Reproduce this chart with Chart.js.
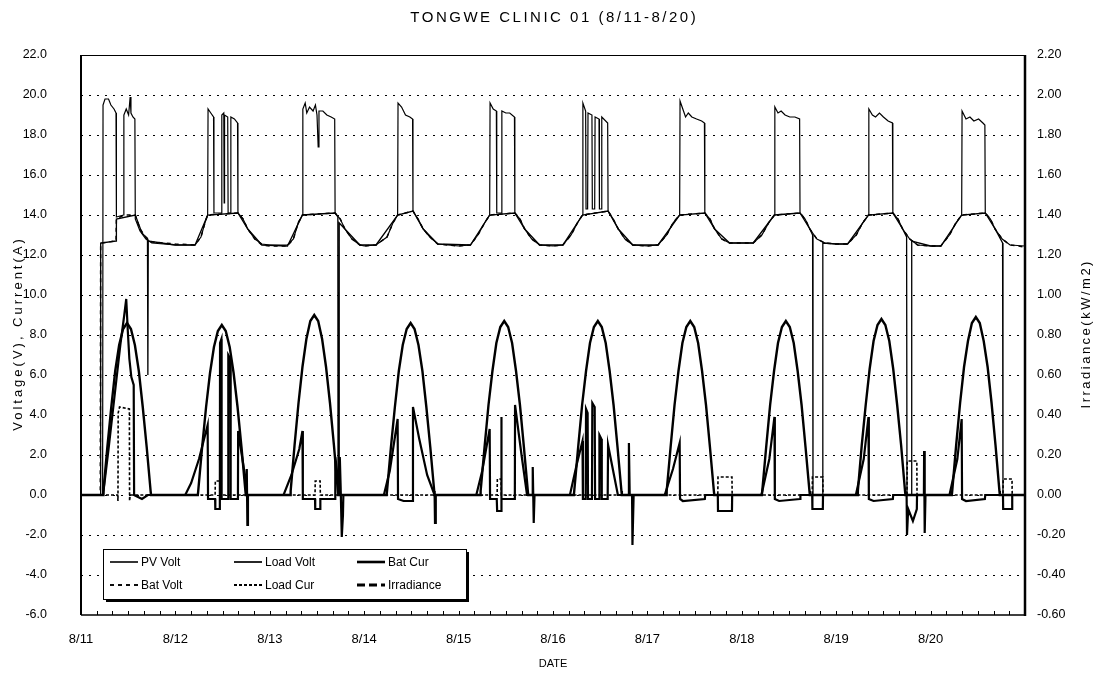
<!DOCTYPE html>
<html>
<head>
<meta charset="utf-8">
<script src="https://cdn.jsdelivr.net/npm/chart.js@4.4.1/dist/chart.umd.min.js"></script>
<style>
  html, body { margin: 0; padding: 0; background: #fff; }
  canvas { display: block; }
</style>
</head>
<body>
<canvas id="chart" width="1097" height="681"></canvas>
<script>
// ---- chart text ----
const chartTitle = 'TONGWE CLINIC 01 (8/11-8/20)';
const xTitle = 'DATE';
const yTitleLeft = 'Voltage(V), Current(A)';
const yTitleRight = 'Irradiance(kW/m2)';
const dateLabels = ['8/11', '8/12', '8/13', '8/14', '8/15', '8/16', '8/17', '8/18', '8/19', '8/20'];

// ---- logged series: [hours since 8/11 00:00, value] ----
const pvVolt = [
  [0,0],[5.5,0],[5.6,19.5],[6.1,19.8],[7.0,19.8],[7.6,19.5],[8.4,19.3],[8.9,19.1],[9.0,13.9],[10.8,14.0],[10.9,19.0],[11.5,19.3],[12.1,19.0],[12.5,19.9],[12.7,19.1],[13.2,18.9],[13.7,18.8],[13.8,13.8],[15.0,13.2],[16.5,12.8],[18,12.6],[24,12.5],
  [29,12.5],[30.5,12.9],[31.5,13.6],[32.2,14.0],[32.3,19.3],[33.0,19.1],[33.7,18.9],[33.8,14.1],[35.7,14.1],[35.8,19.0],[36.3,19.1],[36.4,14.6],[36.5,19.0],[37.3,18.9],[37.4,14.1],[38.0,14.1],[38.1,18.9],[39.0,18.8],[39.8,18.6],[39.9,14.1],[41.2,13.8],[42.4,13.3],[44.2,12.8],[46,12.55],[48,12.5],
  [52.5,12.5],[54,12.8],[55.2,13.6],[56.3,14.0],[56.4,19.3],[57.0,19.6],[57.4,19.1],[58.1,19.4],[59.0,19.2],[59.6,19.5],[60.0,19.0],[60.3,17.4],[60.5,19.2],[61.5,19.2],[62.5,19.0],[63.6,18.9],[64.5,18.8],[64.6,14.1],[65.9,13.8],[67.1,13.3],[68.9,12.8],[70.9,12.5],[72,12.45],
  [75.0,12.5],[77.8,12.9],[79.3,13.6],[80.5,14.0],[80.6,19.6],[81.5,19.4],[82.5,19.0],[83.6,18.9],[84.3,18.8],[84.4,14.2],[85.7,13.8],[87.0,13.3],[88.7,12.9],[90.7,12.55],[96,12.45],
  [99,12.5],[100.9,13.0],[102.6,13.6],[103.9,14.0],[104.0,19.6],[104.8,19.3],[105.6,19.2],[105.7,14.1],[106.9,14.1],[107.0,19.2],[108.0,19.1],[109.0,19.1],[110.2,18.9],[110.3,14.1],[111.6,13.8],[112.8,13.3],[114.6,12.8],[116.6,12.5],[120,12.45],
  [122.5,12.5],[124.6,13.0],[126.2,13.6],[127.5,14.0],[127.6,19.6],[128.3,19.2],[128.4,14.3],[128.8,14.3],[128.9,19.1],[129.9,19.0],[130.0,14.3],[130.6,14.3],[130.7,18.9],[131.7,18.8],[131.8,14.3],[132.3,14.3],[132.4,18.9],[133.9,18.6],[134.0,14.2],[135.3,13.8],[136.6,13.3],[138.3,12.8],[140.3,12.5],[144,12.45],
  [146.7,12.5],[148.9,13.0],[150.5,13.6],[152.2,14.0],[152.3,19.7],[153.0,19.3],[153.7,18.9],[154.4,19.1],[155.3,18.9],[156.5,18.8],[157.8,18.7],[158.5,18.6],[158.6,14.1],[159.9,13.8],[161.1,13.3],[162.9,12.8],[164.9,12.6],[168,12.6],
  [170.9,12.6],[173.1,13.0],[174.8,13.6],[176.3,14.0],[176.4,19.4],[177.2,19.1],[178.0,19.2],[179.0,19.0],[180.2,18.9],[181.5,18.9],[182.7,18.8],[182.8,14.1],[184.1,13.8],[185.3,13.3],[187.1,12.8],[189.1,12.6],[192,12.55],
  [194.9,12.55],[197.1,13.0],[198.7,13.6],[200.2,14.0],[200.3,19.3],[201.2,19.0],[202.0,18.9],[203.0,19.1],[204.0,18.9],[205.2,18.7],[206.3,18.6],[206.4,14.1],[207.7,13.8],[208.9,13.3],[210.7,12.8],[212.7,12.5],[216,12.45],
  [218.6,12.45],[220.8,13.0],[222.4,13.6],[223.9,14.0],[224.0,19.2],[225.0,18.8],[226.0,18.9],[227.0,18.7],[228.2,18.8],[229.3,18.6],[229.8,18.5],[229.9,14.1],[231.2,13.8],[232.4,13.3],[234.2,12.8],[236.2,12.5],[240,12.45]
];

const batVolt = [
  [0,0],[4.9,0],[5.0,12.6],[8.9,12.7],[9.0,13.8],[10.9,14.0],[13.8,14.0],[15.0,13.3],[16.5,12.9],[18,12.65],[24,12.55],
  [29,12.5],[30.5,12.9],[31.5,13.6],[32.2,14.0],[39.9,14.1],[41.2,13.8],[42.4,13.3],[44.2,12.8],[46,12.5],[48,12.45],
  [52.5,12.45],[54,12.8],[55.2,13.6],[56.3,14.0],[64.6,14.1],[65.9,13.8],[67.1,13.3],[68.9,12.8],[70.9,12.5],[72,12.45],
  [75.0,12.5],[77.8,12.9],[79.3,13.6],[80.5,14.0],[84.4,14.2],[85.7,13.8],[87.0,13.3],[88.7,12.9],[90.7,12.55],[96,12.45],
  [99,12.5],[100.9,13.0],[102.6,13.6],[103.9,14.0],[110.3,14.1],[111.6,13.8],[112.8,13.3],[114.6,12.8],[116.6,12.5],[120,12.45],
  [122.5,12.5],[124.6,13.0],[126.2,13.6],[127.5,14.0],[134.0,14.2],[135.3,13.8],[136.6,13.3],[138.3,12.8],[140.3,12.5],[144,12.45],
  [146.7,12.5],[148.9,13.0],[150.5,13.6],[152.2,14.0],[158.6,14.1],[159.9,13.8],[161.1,13.3],[162.9,12.8],[164.9,12.6],[168,12.6],
  [170.9,12.6],[173.1,13.0],[174.8,13.6],[176.3,14.0],[182.8,14.1],[184.1,13.8],[185.3,13.3],[187.1,12.8],[189.1,12.6],[192,12.55],
  [194.9,12.55],[197.1,13.0],[198.7,13.6],[200.2,14.0],[206.4,14.1],[207.7,13.8],[208.9,13.3],[210.7,12.8],[212.7,12.5],[216,12.45],
  [218.6,12.45],[220.8,13.0],[222.4,13.6],[223.9,14.0],[229.9,14.1],[231.2,13.8],[232.4,13.3],[234.2,12.8],[236.2,12.5],[240,12.4]
];

const loadVolt = [
  [0,0],[4.9,0],[5.0,12.6],[8.9,12.7],[9.0,13.8],[13.8,14.0],[15.5,13.1],[16.9,12.8],[17.0,6.0],[17.1,12.7],[24,12.5],
  [29,12.5],[32.2,14.0],[39.9,14.1],[42.4,13.3],[46,12.5],
  [52.5,12.45],[56.3,14.0],[64.6,14.1],[65.3,13.9],[65.35,0],[65.6,0],[65.65,13.6],[67.1,13.3],[70.9,12.5],
  [75,12.5],[80.5,14.0],[84.4,14.2],[87,13.3],[90.7,12.55],
  [99,12.5],[103.9,14.0],[110.3,14.1],[112.8,13.3],[116.6,12.5],
  [122.5,12.5],[127.5,14.0],[134,14.2],[136.6,13.3],[140.3,12.5],
  [146.7,12.5],[152.2,14.0],[158.6,14.1],[161.1,13.3],[164.9,12.6],
  [170.9,12.6],[176.3,14.0],[182.8,14.1],[185.3,13.3],[186.0,13.0],[186.1,0],[188.5,0],[188.6,12.6],[192,12.55],
  [194.9,12.55],[200.2,14.0],[206.4,14.1],[208.9,13.3],[209.9,12.9],[210.0,0],[211.1,0],[211.2,12.7],[216,12.45],
  [218.6,12.45],[223.9,14.0],[229.9,14.1],[232.4,13.3],[234.3,12.6],[234.4,0],[240,0]
];

const batCur = [
  [0,0],[5.6,0],[7.0,2.3],[8.5,4.9],[10.0,7.5],[11.0,9.0],[11.5,9.8],[11.9,8.2],[12.3,6.8],[12.8,5.9],[13.4,5.5],[13.5,0],[15.5,-0.2],[17,0],
  [26.5,0],[28,0.6],[30,1.8],[32.2,3.5],[32.3,-0.2],[34.1,-0.2],[34.15,-0.7],[35.3,-0.7],[35.35,7.6],[35.7,7.8],[35.75,-0.2],[37.4,-0.2],[37.45,7.0],[38.0,6.8],[38.05,-0.2],[39.9,-0.2],[39.95,3.2],[41.5,1.2],[42.1,0],[42.15,1.3],[42.3,-1.5],[42.45,0],
  [51.5,0],[53.5,1.0],[55.5,2.3],[56.3,3.2],[56.4,-0.2],[59.5,-0.2],[59.55,-0.7],[60.8,-0.7],[60.85,-0.2],[64.6,-0.2],[64.65,1.9],[65.5,0.5],[65.7,0],[65.8,1.9],[66.0,0.5],[66.3,-2.1],[66.6,-1.0],[66.7,0],
  [77.0,0],[78.5,1.2],[80.5,3.8],[80.6,-0.2],[82,-0.3],[84.3,-0.3],[84.4,4.4],[86,2.8],[88,1.0],[89.9,0],[90.0,-1.4],[90.2,0],
  [100.5,0],[102,1.2],[103.9,3.3],[104.0,-0.2],[105.7,-0.2],[105.8,-0.8],[106.8,-0.8],[106.85,3.9],[106.95,-0.2],[110.3,-0.2],[110.35,4.5],[112,2.0],[113.4,0],[114.8,0],[114.85,1.4],[115.1,-1.4],[115.3,0],
  [124.3,0],[126,1.5],[127.5,2.7],[127.6,-0.2],[128.3,-0.2],[128.4,4.3],[128.8,4.1],[128.9,-0.2],[129.9,-0.2],[130.0,4.6],[130.6,4.4],[130.7,-0.2],[131.7,-0.2],[131.8,3.0],[132.3,2.8],[132.4,-0.2],[133.9,-0.2],[134.0,2.5],[135.5,1.0],[136.5,0],[139.2,0],[139.3,2.6],[139.5,0],[140.1,0],[140.2,-2.5],[140.5,0],
  [148.4,0],[150.5,1.3],[152.2,2.6],[152.3,-0.2],[153,-0.3],[158.6,-0.2],[158.7,0],[161.9,0],[161.95,-0.8],[165.5,-0.8],[165.55,0],
  [173.0,0],[175,1.8],[176.3,3.9],[176.4,-0.2],[177.5,-0.3],[182.8,-0.2],[182.9,0],[185.9,0],[185.95,-0.7],[188.6,-0.7],[188.65,0],
  [197.0,0],[199,1.8],[200.2,3.9],[200.3,-0.2],[201.5,-0.3],[206.4,-0.2],[206.5,0],[209.9,0],[210.0,-2.0],[210.3,-0.7],[211.5,-1.3],[212.5,-0.7],[212.55,0],[214.3,0],[214.35,2.2],[214.5,-1.9],[214.7,0],
  [220.8,0],[222.8,1.8],[223.9,3.8],[224.0,-0.2],[225,-0.3],[229.8,-0.2],[229.9,0],[234.4,0],[234.45,-0.7],[236.7,-0.7],[236.75,0],[240,0]
];

const loadCur = [
  [0,0],[9.3,0],[9.4,-0.3],[9.45,4.1],[9.8,4.4],[12.3,4.3],[12.35,-0.3],[12.5,0],
  [34.1,0],[34.15,0.7],[35.3,0.7],[35.35,0],
  [59.5,0],[59.55,0.7],[60.8,0.7],[60.85,0],
  [105.8,0],[105.85,0.8],[106.8,0.8],[106.85,0],
  [161.9,0],[161.95,0.9],[165.5,0.9],[165.55,0],
  [185.9,0],[185.95,0.9],[188.6,0.9],[188.65,0],
  [210.0,0],[210.05,1.7],[212.5,1.7],[212.55,0],
  [234.4,0],[234.45,0.8],[236.7,0.8],[236.75,0],[240,0]
];

// kW/m2, right axis
const irradiance = [
  [0,0],
  [5.6,0],[5.7,0.02],[6.7,0.24],[7.7,0.44],[8.7,0.62],[9.7,0.75],[10.7,0.83],[11.7,0.86],[12.7,0.83],[13.7,0.75],[14.7,0.62],[15.7,0.44],[16.7,0.24],[17.7,0.02],[17.8,0],
  [29.7,0],[29.8,0.02],[30.8,0.24],[31.8,0.44],[32.8,0.61],[33.8,0.74],[34.8,0.82],[35.8,0.85],[36.8,0.82],[37.8,0.74],[38.8,0.61],[39.8,0.44],[40.8,0.24],[41.8,0.02],[41.9,0],
  [53.2,0],[53.3,0.02],[54.3,0.25],[55.3,0.46],[56.3,0.64],[57.3,0.78],[58.3,0.87],[59.3,0.90],[60.3,0.87],[61.3,0.78],[62.3,0.64],[63.3,0.46],[64.3,0.25],[65.3,0.02],[65.4,0],
  [77.7,0],[77.8,0.02],[78.8,0.24],[79.8,0.44],[80.8,0.62],[81.8,0.75],[82.8,0.83],[83.8,0.86],[84.8,0.83],[85.8,0.75],[86.8,0.62],[87.8,0.44],[88.8,0.24],[89.8,0.02],[89.9,0],
  [101.5,0],[101.6,0.02],[102.6,0.24],[103.6,0.45],[104.6,0.62],[105.6,0.76],[106.6,0.84],[107.6,0.87],[108.6,0.84],[109.6,0.76],[110.6,0.62],[111.6,0.45],[112.6,0.24],[113.6,0.02],[113.7,0],
  [125.3,0],[125.4,0.02],[126.4,0.24],[127.4,0.45],[128.4,0.62],[129.4,0.76],[130.4,0.84],[131.4,0.87],[132.4,0.84],[133.4,0.76],[134.4,0.62],[135.4,0.45],[136.4,0.24],[137.4,0.02],[137.5,0],
  [148.8,0],[148.9,0.02],[149.9,0.24],[150.9,0.45],[151.9,0.62],[152.9,0.76],[153.9,0.84],[154.9,0.87],[155.9,0.84],[156.9,0.76],[157.9,0.62],[158.9,0.45],[159.9,0.24],[160.9,0.02],[161.0,0],
  [173.1,0],[173.2,0.02],[174.2,0.24],[175.2,0.45],[176.2,0.62],[177.2,0.76],[178.2,0.84],[179.2,0.87],[180.2,0.84],[181.2,0.76],[182.2,0.62],[183.2,0.45],[184.2,0.24],[185.2,0.02],[185.3,0],
  [197.4,0],[197.5,0.02],[198.5,0.25],[199.5,0.45],[200.5,0.63],[201.5,0.77],[202.5,0.85],[203.5,0.88],[204.5,0.85],[205.5,0.77],[206.5,0.63],[207.5,0.45],[208.5,0.25],[209.5,0.02],[209.6,0],
  [221.4,0],[221.5,0.02],[222.5,0.25],[223.5,0.46],[224.5,0.64],[225.5,0.77],[226.5,0.86],[227.5,0.89],[228.5,0.86],[229.5,0.77],[230.5,0.64],[231.5,0.46],[232.5,0.25],[233.5,0.02],[233.6,0],
  [240,0]
];

// ---- drawing ----
const FONT = "'Liberation Sans', Arial, Helvetica, sans-serif";
const INK = '#000';
const toXY = (rows) => rows.map(([x, y]) => ({ x, y }));

// line styles shared by the plotted series and the legend key
const styles = {
  'PV Volt':    { width: 1.2, dash: [] },
  'Load Volt':  { width: 1.3, dash: [] },
  'Bat Cur':    { width: 2.2, dash: [] },
  'Bat Volt':   { width: 1.5, dash: [4, 4] },
  'Load Cur':   { width: 1.6, dash: [3, 2] },
  'Irradiance': { width: 2.4, dash: [] }
};
const legendKeyDash = { 'Irradiance': [8, 4] };

function series(label, rows, axis) {
  return {
    label,
    data: toXY(rows),
    yAxisID: axis,
    borderColor: INK,
    borderWidth: styles[label].width,
    borderDash: styles[label].dash,
    pointRadius: 0,
    tension: 0,
    fill: false
  };
}

function spacedText(ctx, text, x, y, spacing) {
  if ('letterSpacing' in ctx) {
    ctx.letterSpacing = spacing + 'px';
    ctx.fillText(text, x + spacing / 2, y);
    ctx.letterSpacing = '0px';
  } else {
    ctx.fillText(text, x, y);
  }
}

const chromePlugin = {
  id: 'chrome',
  beforeDatasetsDraw(chart) {
    const { ctx, chartArea: ca } = chart;
    const yS = chart.scales.y;
    ctx.save();
    ctx.strokeStyle = INK;
    ctx.lineWidth = 1;
    ctx.setLineDash([2, 6]);
    yS.ticks.forEach(t => {
      if (t.value <= yS.min || t.value >= yS.max) return;
      const py = Math.round(yS.getPixelForValue(t.value)) + 0.5;
      ctx.beginPath();
      ctx.moveTo(ca.left, py);
      ctx.lineTo(ca.right, py);
      ctx.stroke();
    });
    ctx.restore();
  },
  afterDatasetsDraw(chart) {
    const { ctx, chartArea: ca } = chart;
    const xS = chart.scales.x;
    ctx.save();
    ctx.strokeStyle = INK;
    ctx.setLineDash([]);
    // plot frame
    ctx.lineWidth = 1;
    ctx.beginPath(); ctx.moveTo(ca.left, ca.top + 0.5); ctx.lineTo(ca.right, ca.top + 0.5); ctx.stroke();
    ctx.lineWidth = 2;
    ctx.beginPath(); ctx.moveTo(ca.left, ca.top); ctx.lineTo(ca.left, ca.bottom); ctx.stroke();
    ctx.lineWidth = 2.5;
    ctx.beginPath(); ctx.moveTo(ca.right, ca.top); ctx.lineTo(ca.right, ca.bottom + 1); ctx.stroke();
    ctx.lineWidth = 1.5;
    ctx.beginPath(); ctx.moveTo(ca.left, ca.bottom); ctx.lineTo(ca.right, ca.bottom); ctx.stroke();
    // small ticks every 4 hours along the date axis
    ctx.lineWidth = 1;
    for (let h = 4; h < xS.max; h += 4) {
      const px = Math.round(xS.getPixelForValue(h)) + 0.5;
      ctx.beginPath(); ctx.moveTo(px, ca.bottom); ctx.lineTo(px, ca.bottom - 4); ctx.stroke();
    }

    // legend box
    const L = ca.left + 22, T = ca.bottom - 66, W = 363, H = 50;
    ctx.fillStyle = '#fff';
    ctx.fillRect(L, T, W, H);
    ctx.fillStyle = INK;
    ctx.fillRect(L + W, T + 3, 3, H);
    ctx.fillRect(L + 3, T + H, W, 3);
    ctx.lineWidth = 1;
    ctx.strokeRect(L + 0.5, T + 0.5, W, H);
    const rows = [['PV Volt', 'Load Volt', 'Bat Cur'], ['Bat Volt', 'Load Cur', 'Irradiance']];
    const colX = [L + 7, L + 131, L + 254];
    const rowY = [T + 13, T + 36];
    ctx.font = '12px ' + FONT;
    ctx.textBaseline = 'middle';
    ctx.textAlign = 'left';
    rows.forEach((row, r) => row.forEach((name, c) => {
      const st = styles[name];
      ctx.lineWidth = st.width + 0.4;
      ctx.setLineDash(legendKeyDash[name] || st.dash);
      ctx.beginPath();
      ctx.moveTo(colX[c], rowY[r]);
      ctx.lineTo(colX[c] + 28, rowY[r]);
      ctx.stroke();
      ctx.setLineDash([]);
      ctx.fillText(name, colX[c] + 31, rowY[r] + 1);
    }));

    // titles
    ctx.textAlign = 'center';
    ctx.font = '15px ' + FONT;
    spacedText(ctx, chartTitle, (ca.left + ca.right) / 2, 18, 2.5);
    ctx.font = '11px ' + FONT;
    ctx.fillText(xTitle, (ca.left + ca.right) / 2, 664);
    const midY = (ca.top + ca.bottom) / 2;
    ctx.font = '13px ' + FONT;
    ctx.save();
    ctx.translate(18, midY);
    ctx.rotate(-Math.PI / 2);
    spacedText(ctx, yTitleLeft, 0, 0, 3);
    ctx.restore();
    ctx.save();
    ctx.translate(1086, midY);
    ctx.rotate(-Math.PI / 2);
    spacedText(ctx, yTitleRight, 0, 0, 2.5);
    ctx.restore();
    ctx.restore();
  }
};

new Chart(document.getElementById('chart'), {
  type: 'line',
  data: {
    datasets: [
      series('PV Volt', pvVolt, 'y'),
      series('Load Volt', loadVolt, 'y'),
      series('Bat Volt', batVolt, 'y'),
      series('Bat Cur', batCur, 'y'),
      series('Load Cur', loadCur, 'y'),
      series('Irradiance', irradiance, 'y2')
    ]
  },
  options: {
    responsive: false,
    devicePixelRatio: 1,
    animation: false,
    layout: { padding: { top: 55, left: 0, right: 0, bottom: 0 } },
    plugins: { legend: { display: false }, title: { display: false }, tooltip: { enabled: false } },
    scales: {
      x: {
        type: 'linear',
        min: 0, max: 240,
        grid: { display: false },
        border: { display: false },
        ticks: {
          stepSize: 24, autoSkip: false, maxRotation: 0, color: INK,
          font: { family: FONT, size: 13 }, padding: 9,
          callback: (v) => dateLabels[Math.round(v / 24)] || ''
        },
        afterFit: (s) => { s.height = 66; }
      },
      y: {
        position: 'left',
        min: -6, max: 22,
        grid: { display: false },
        border: { display: false },
        ticks: {
          stepSize: 2, color: INK, font: { family: FONT, size: 12.5 }, padding: 26,
          callback: (v) => (Math.abs(v) < 1e-9 ? 0 : v).toFixed(1)
        },
        afterFit: (s) => { s.width = 81; }
      },
      y2: {
        position: 'right',
        min: -0.6, max: 2.2,
        grid: { display: false },
        border: { display: false },
        ticks: {
          stepSize: 0.2, color: INK, font: { family: FONT, size: 12.5 }, padding: 4,
          callback: (v) => (Math.abs(v) < 1e-9 ? 0 : v).toFixed(2)
        },
        afterFit: (s) => { s.width = 72; }
      }
    }
  },
  plugins: [chromePlugin]
});
</script>
</body>
</html>
